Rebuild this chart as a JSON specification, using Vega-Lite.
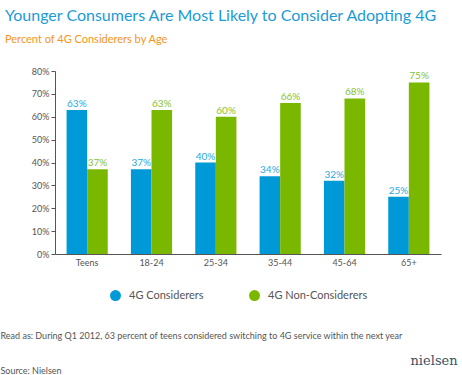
{
  "$schema": "https://vega.github.io/schema/vega-lite/v6.json",
  "width": 386,
  "height": 183,
  "autosize": {"type": "none"},
  "padding": {"left": 55, "top": 71, "right": 21, "bottom": 121},
  "background": "white",
  "config": {"view": {"stroke": null}, "font": "Lato"},
  "title": {
    "text": "Younger Consumers Are Most Likely to Consider Adopting 4G",
    "subtitle": "Percent of 4G Considerers by Age",
    "anchor": "start",
    "frame": "group",
    "dx": -50,
    "offset": 22,
    "fontSize": 16,
    "fontWeight": "normal",
    "color": "#1b9bd7",
    "subtitleColor": "#f7941d",
    "subtitleFontSize": 11,
    "subtitlePadding": 10
  },
  "data": {
    "values": [
      {"age": "Teens", "series": "4G Considerers", "value": 0.63},
      {"age": "Teens", "series": "4G Non-Considerers", "value": 0.37},
      {"age": "18-24", "series": "4G Considerers", "value": 0.37},
      {"age": "18-24", "series": "4G Non-Considerers", "value": 0.63},
      {"age": "25-34", "series": "4G Considerers", "value": 0.40},
      {"age": "25-34", "series": "4G Non-Considerers", "value": 0.60},
      {"age": "35-44", "series": "4G Considerers", "value": 0.34},
      {"age": "35-44", "series": "4G Non-Considerers", "value": 0.66},
      {"age": "45-64", "series": "4G Considerers", "value": 0.32},
      {"age": "45-64", "series": "4G Non-Considerers", "value": 0.68},
      {"age": "65+", "series": "4G Considerers", "value": 0.25},
      {"age": "65+", "series": "4G Non-Considerers", "value": 0.75}
    ]
  },
  "encoding": {
    "x": {
      "field": "age",
      "type": "nominal",
      "sort": null,
      "scale": {"paddingInner": 0.36, "paddingOuter": 0.18},
      "axis": {
        "title": "Read as: During Q1 2012, 63 percent of teens considered switching to 4G service within the next year",
        "titleAnchor": "start",
        "titleAlign": "left",
        "titleX": -55,
        "titleY": 77,
        "titleBaseline": "top",
        "titleFontSize": 9,
        "titleFontWeight": "normal",
        "titleColor": "#555555",
        "labelAngle": 0,
        "labelFontSize": 9,
        "labelColor": "#555555",
        "labelPadding": 4,
        "ticks": false,
        "domainColor": "#555555",
        "domainWidth": 1
      }
    },
    "xOffset": {"field": "series", "type": "nominal"}
  },
  "layer": [
    {
      "mark": {"type": "bar"},
      "encoding": {
        "y": {
          "field": "value",
          "type": "quantitative",
          "scale": {"domain": [0, 0.8]},
          "axis": {
            "format": ".0%",
            "values": [0, 0.1, 0.2, 0.3, 0.4, 0.5, 0.6, 0.7, 0.8],
            "labelOverlap": false,
            "grid": false,
            "labelFontSize": 9,
            "labelColor": "#555555",
            "tickColor": "#555555",
            "tickSize": 4,
            "domainColor": "#555555",
            "title": "Source: Nielsen",
            "titleAngle": 0,
            "titleAlign": "left",
            "titleBaseline": "top",
            "titleX": -55,
            "titleY": 295,
            "titleFontSize": 9,
            "titleFontWeight": "normal",
            "titleColor": "#555555"
          }
        },
        "color": {
          "field": "series",
          "type": "nominal",
          "scale": {"domain": ["4G Considerers", "4G Non-Considerers"], "range": ["#0099d8", "#7ab800"]},
          "legend": {
            "orient": "none",
            "legendX": 55,
            "legendY": 219,
            "direction": "horizontal",
            "title": null,
            "symbolType": "circle",
            "symbolSize": 120,
            "symbolStrokeWidth": 0,
            "labelFontSize": 11,
            "labelColor": "#555555",
            "labelOffset": 8,
            "columnPadding": 45
          }
        }
      }
    },
    {
      "mark": {"type": "text", "dy": -1, "baseline": "bottom", "fontSize": 10},
      "encoding": {
        "y": {
          "field": "value",
          "type": "quantitative",
          "scale": {"domain": [0, 0.8]},
          "axis": {
            "orient": "right",
            "labels": false,
            "ticks": false,
            "domain": false,
            "grid": false,
            "title": "nielsen",
            "titleAngle": 0,
            "titleAlign": "left",
            "titleBaseline": "top",
            "titleX": -31,
            "titleY": 283,
            "titleFont": "DejaVu Serif",
            "titleFontSize": 13,
            "titleFontWeight": "normal",
            "titleColor": "#3d4f63"
          }
        },
        "text": {"field": "value", "type": "quantitative", "format": ".0%"},
        "color": {
          "field": "series",
          "type": "nominal",
          "scale": {"domain": ["4G Considerers", "4G Non-Considerers"], "range": ["#2aa8e0", "#86c232"]},
          "legend": null
        }
      }
    }
  ],
  "resolve": {"axis": {"y": "independent"}, "scale": {"color": "independent"}}
}
